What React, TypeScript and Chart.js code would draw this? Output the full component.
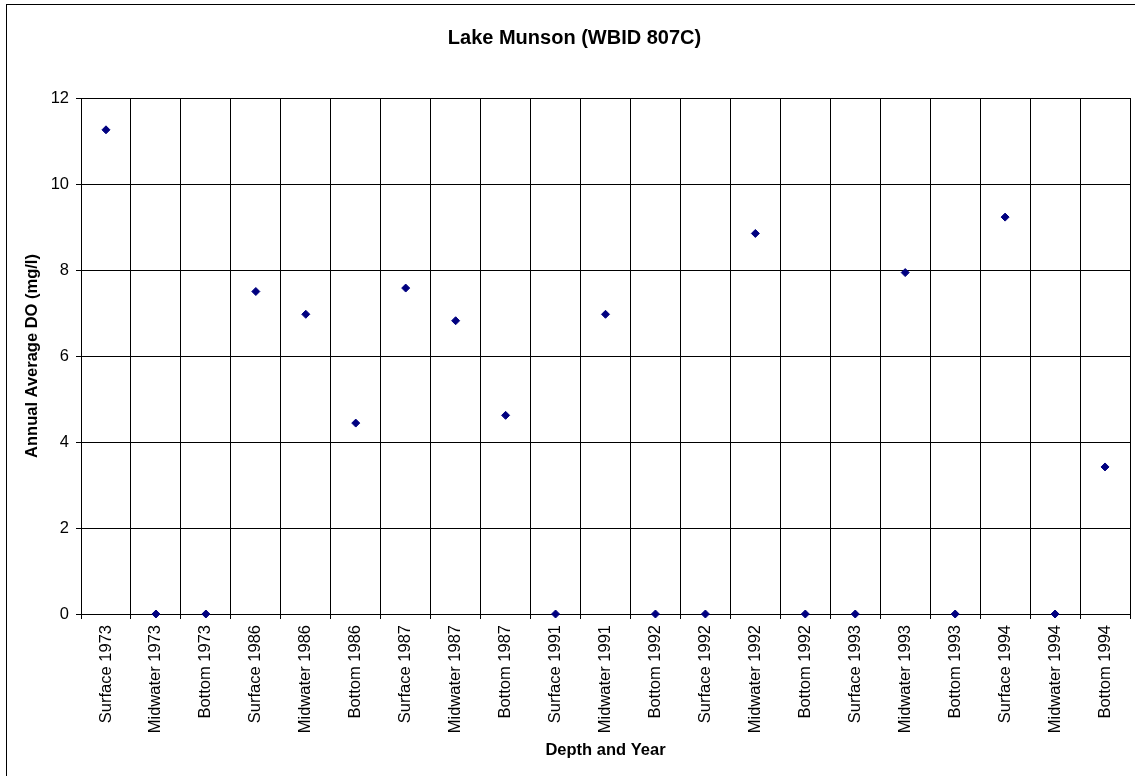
import React, { useEffect, useRef } from "react";
import { Chart, registerables } from "chart.js";

Chart.register(...registerables);

const chartTitle = "Lake Munson (WBID 807C)";
const xAxisTitle = "Depth and Year";
const yAxisTitle = "Annual Average DO (mg/l)";

const categories = [
  "Surface 1973",
  "Midwater 1973",
  "Bottom 1973",
  "Surface 1986",
  "Midwater 1986",
  "Bottom 1986",
  "Surface 1987",
  "Midwater 1987",
  "Bottom 1987",
  "Surface 1991",
  "Midwater 1991",
  "Bottom 1992",
  "Surface 1992",
  "Midwater 1992",
  "Bottom 1992",
  "Surface 1993",
  "Midwater 1993",
  "Bottom 1993",
  "Surface 1994",
  "Midwater 1994",
  "Bottom 1994",
];

const doValues = [
  11.26, 0, 0, 7.5, 6.97, 4.44, 7.58, 6.82, 4.62, 0, 6.97, 0, 0, 8.85, 0, 0,
  7.94, 0, 9.23, 0, 3.42,
];

const yMin = 0;
const yMax = 12;
const yStep = 2;

const FONT = "'Liberation Sans', Arial, Helvetica, sans-serif";

const framePlugin = {
  id: "frame",
  afterDraw(chart: any) {
    const ctx = chart.ctx;
    ctx.save();
    ctx.fillStyle = "#000";
    ctx.fillRect(6, 4, 1, chart.height - 4);
    ctx.fillRect(6, 4, chart.width - 6, 1);
    ctx.font = `bold 20px ${FONT}`;
    ctx.textAlign = "center";
    ctx.textBaseline = "middle";
    ctx.fillText(chartTitle, 574.5, 38.5);
    ctx.restore();
  },
};

export default function App() {
  const canvasRef = useRef<HTMLCanvasElement | null>(null);

  useEffect(() => {
    const canvas = canvasRef.current;
    if (!canvas) return;
    const chart = new Chart(canvas, {
      type: "line",
      data: {
        labels: categories,
        datasets: [
          {
            label: "DO",
            data: doValues,
            showLine: false,
            pointStyle: "rectRot",
            pointRadius: 4,
            pointHoverRadius: 4,
            pointBorderWidth: 1,
            pointBackgroundColor: "#000080",
            pointBorderColor: "#000080",
            borderColor: "#000080",
            backgroundColor: "#000080",
            clip: false,
          },
        ],
      },
      options: {
        animation: false,
        responsive: false,
        devicePixelRatio: 1,
        events: [],
        layout: { padding: { left: 0, right: 4, top: 98, bottom: 0 } },
        plugins: {
          legend: { display: false },
          title: { display: false },
          tooltip: { enabled: false },
        },
        scales: {
          x: {
            type: "category",
            offset: true,
            grid: {
              offset: true,
              color: "#000",
              lineWidth: 1,
              drawTicks: true,
              tickLength: 5,
              tickColor: "#000",
            },
            border: { display: true, color: "#000", width: 1 },
            ticks: {
              autoSkip: false,
              minRotation: 90,
              maxRotation: 90,
              padding: 6,
              color: "#000",
              font: { family: FONT, size: 16.5 },
            },
            title: {
              display: true,
              text: xAxisTitle,
              color: "#000",
              font: { family: FONT, size: 16.5, weight: "bold" },
              padding: { top: 4, bottom: 16 },
            },
            afterFit(scale: any) {
              scale.height = 162;
            },
          },
          y: {
            type: "linear",
            min: yMin,
            max: yMax,
            grid: {
              color: "#000",
              lineWidth: 1,
              drawTicks: true,
              tickLength: 5,
              tickColor: "#000",
            },
            border: { display: true, color: "#000", width: 1 },
            ticks: {
              stepSize: yStep,
              padding: 7,
              color: "#000",
              font: { family: FONT, size: 16.5 },
            },
            title: {
              display: true,
              text: yAxisTitle,
              color: "#000",
              font: { family: FONT, size: 16.5, weight: "bold" },
              padding: { top: 23, bottom: 4 },
            },
            afterFit(scale: any) {
              scale.width = 81;
            },
          },
        },
      },
      plugins: [framePlugin],
    });
    return () => chart.destroy();
  }, []);

  return (
    <div style={{ position: "absolute", left: 0, top: 0, width: 1135, height: 776, background: "#fff" }}>
      <canvas ref={canvasRef} width={1135} height={776} style={{ display: "block" }} />
    </div>
  );
}
